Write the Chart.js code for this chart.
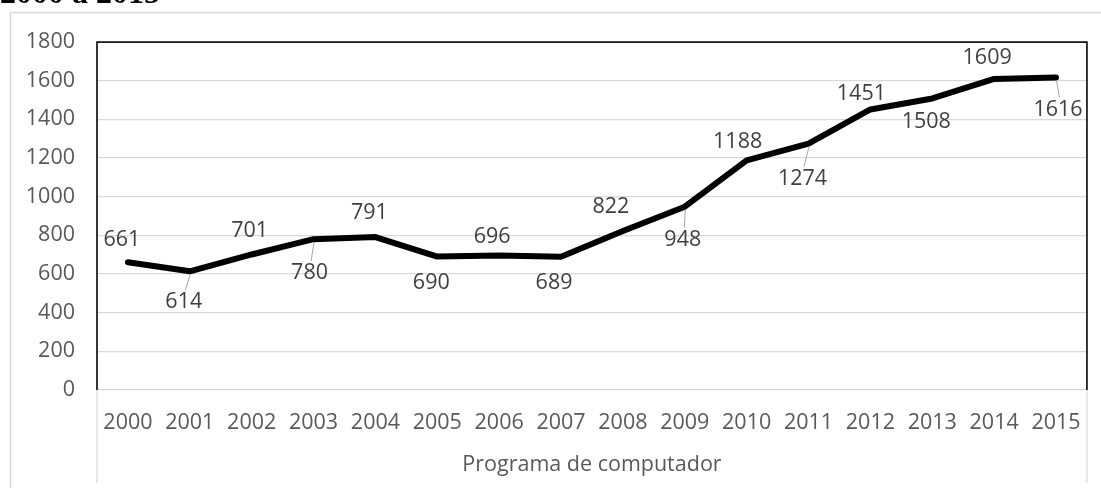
<!DOCTYPE html>
<html><head><meta charset="utf-8">
<script src="https://cdn.jsdelivr.net/npm/chart.js@4.4.1/dist/chart.umd.min.js"></script>
<style>
html,body{margin:0;padding:0;background:#fff;overflow:hidden}
#wrap{position:relative;width:1101px;height:488px}
canvas{position:absolute;left:0;top:0}
</style></head><body>
<div id="wrap"><canvas id="c" width="1101" height="488"></canvas></div>
<script>
// ---- data ----
const years = ['2000','2001','2002','2003','2004','2005','2006','2007','2008','2009','2010','2011','2012','2013','2014','2015'];
const values = [661,614,701,780,791,690,696,689,822,948,1188,1274,1451,1508,1609,1616];
const yTicks = [0,200,400,600,800,1000,1200,1400,1600,1800];
const groupLabel = 'Programa de computador';
const titleText = '2000 a 2015';

// ---- label placement (style only) ----
const labelDx = [-6,-6,-2,-4,-6,-6,-7,-7,-12,-2,-9,-6,-9,-6,-7,2];
const labelDy = [-22,31,-24,34,-24,26,-19,26,-24,33,-18,35,-16,23,-21,32];
const leader  = [0,1,0,1,0,0,0,0,0,1,0,1,0,0,0,1];

const FONT = '"Open Sans", "Liberation Sans", sans-serif';
const FSIZE = 21.5;

const decor = {
  id: 'decor',
  beforeDraw(chart) {
    const ctx = chart.ctx;
    ctx.save();
    // title fragment (cut off by the top edge)
    ctx.fillStyle = '#000';
    ctx.font = 'bold 32px "Liberation Serif", serif';
    ctx.textAlign = 'left';
    ctx.textBaseline = 'alphabetic';
    ctx.fillText(titleText, 0, 3);
    // outer chart border
    ctx.strokeStyle = '#d9d9d9';
    ctx.lineWidth = 1.5;
    ctx.beginPath();
    ctx.moveTo(10.5, 488);
    ctx.lineTo(10.5, 12.5);
    ctx.lineTo(1101, 12.5);
    ctx.stroke();
    ctx.restore();
  },
  afterDraw(chart) {
    const ctx = chart.ctx;
    const a = chart.chartArea;
    ctx.save();
    // plot border top/left/right
    ctx.strokeStyle = '#1a1a1a';
    ctx.lineWidth = 1.75;
    ctx.beginPath();
    ctx.moveTo(a.left, a.bottom);
    ctx.lineTo(a.left, a.top);
    ctx.lineTo(a.right, a.top);
    ctx.lineTo(a.right, a.bottom);
    ctx.stroke();
    // category group separators
    ctx.strokeStyle = '#d9d9d9';
    ctx.lineWidth = 1.25;
    ctx.beginPath();
    ctx.moveTo(a.left, a.bottom); ctx.lineTo(a.left, 483);
    ctx.moveTo(a.right, a.bottom); ctx.lineTo(a.right, 483);
    ctx.stroke();
    // group label
    ctx.fillStyle = '#595959';
    ctx.font = FSIZE + 'px ' + FONT;
    ctx.textAlign = 'center';
    ctx.textBaseline = 'middle';
    ctx.fillText(groupLabel, (a.left + a.right) / 2, 465);
    ctx.restore();
  },
  afterDatasetsDraw(chart) {
    const ctx = chart.ctx;
    const meta = chart.getDatasetMeta(0);
    ctx.save();
    meta.data.forEach((pt, i) => {
      const lx = pt.x + labelDx[i];
      const ly = pt.y + labelDy[i];
      if (leader[i]) {
        ctx.strokeStyle = '#a6a6a6';
        ctx.lineWidth = 1;
        ctx.beginPath();
        ctx.moveTo(pt.x + 0.5, pt.y + 3);
        ctx.lineTo(lx + 1.5, ly - 12);
        ctx.stroke();
      }
      ctx.fillStyle = '#404040';
      ctx.font = FSIZE + 'px ' + FONT;
      ctx.textAlign = 'center';
      ctx.textBaseline = 'middle';
      ctx.fillText(String(values[i]), lx, ly);
    });
    ctx.restore();
  }
};

new Chart(document.getElementById('c'), {
  type: 'line',
  data: {
    labels: years,
    datasets: [{
      data: values,
      borderColor: '#000',
      borderWidth: 6,
      borderJoinStyle: 'round',
      borderCapStyle: 'round',
      pointRadius: 0,
      pointHoverRadius: 0,
      tension: 0,
      fill: false
    }]
  },
  options: {
    responsive: false,
    devicePixelRatio: 1,
    animation: false,
    events: [],
    layout: { padding: { top: 42, right: 13, left: 0, bottom: 0 } },
    plugins: { legend: { display: false }, tooltip: { enabled: false }, title: { display: false } },
    scales: {
      x: {
        type: 'category',
        offset: true,
        grid: { display: false, drawTicks: false },
        border: { display: false },
        ticks: { color: '#595959', font: { size: FSIZE, family: FONT }, padding: 20, maxRotation: 0, autoSkip: false },
        afterFit(s) { s.height = 98; }
      },
      y: {
        min: 0, max: 1800,
        afterBuildTicks(s) { s.ticks = yTicks.map(v => ({ value: v })); },
        grid: { color: '#d9d9d9', lineWidth: 1.25, drawTicks: false },
        border: { display: false },
        ticks: { color: '#595959', font: { size: FSIZE, family: FONT }, padding: 22, callback: v => String(v) },
        afterFit(s) { s.width = 97; }
      }
    }
  },
  plugins: [decor]
});
</script>
</body></html>
